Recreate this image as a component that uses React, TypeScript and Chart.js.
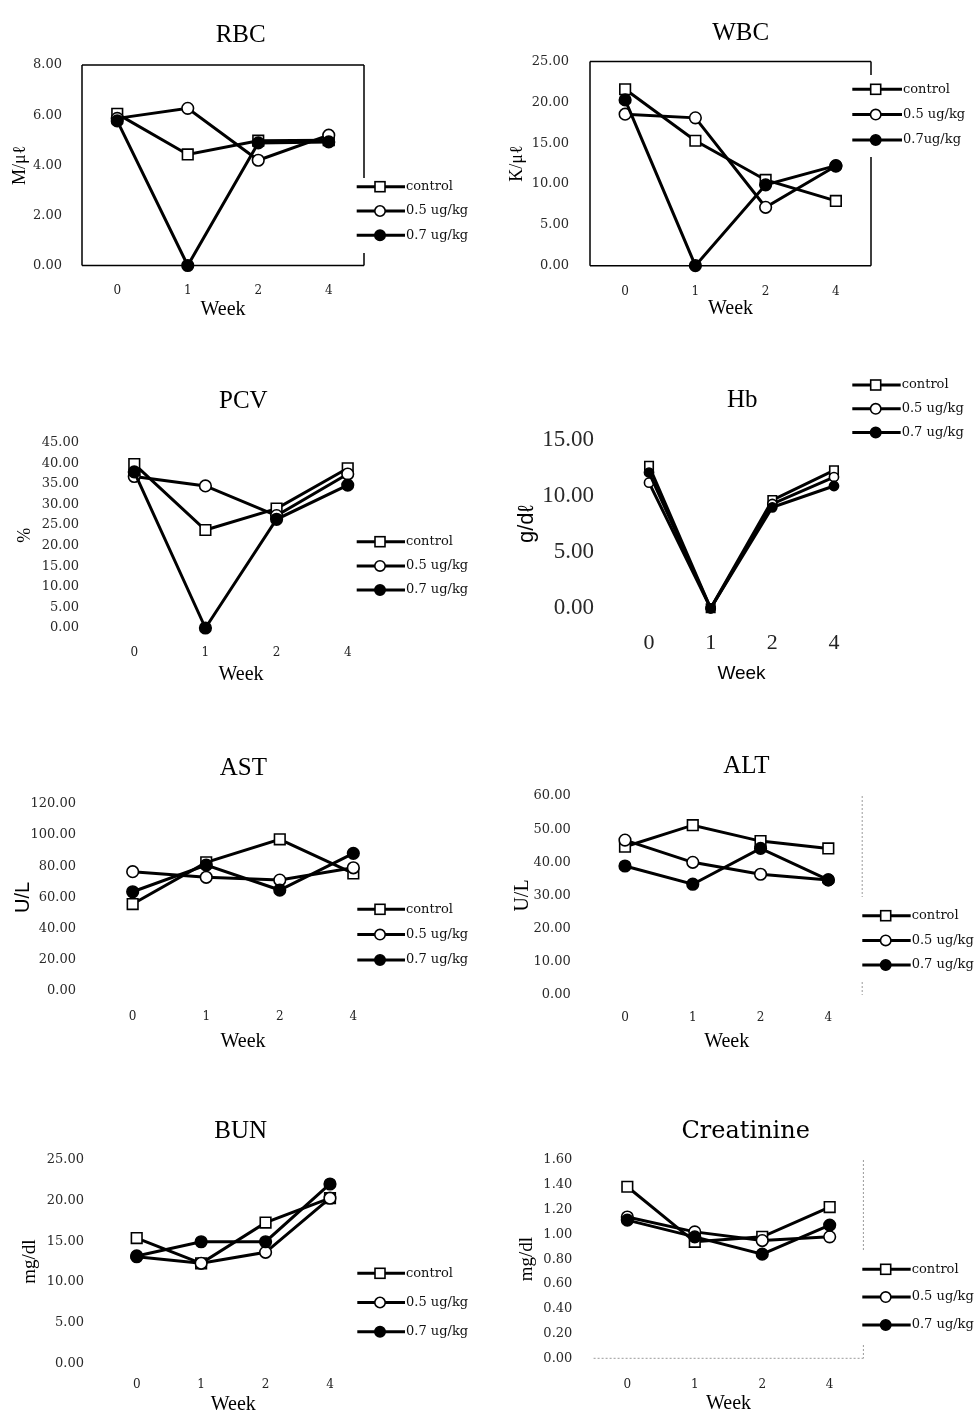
import React, { useEffect, useRef } from 'react';
import { Chart, registerables } from 'chart.js';

Chart.register(...registerables);

// ---------------- data ----------------
const weeks = ['0', '1', '2', '4'];
const legendLabels = ['control', '0.5 ug/kg', '0.7 ug/kg'];
const legendLabelsWBC = ['control', '0.5 ug/kg', '0.7ug/kg'];

const rbcControl = [6.05, 4.43, 4.98, 5.0];
const rbcDose05 = [5.87, 6.27, 4.2, 5.2];
const rbcDose07 = [5.77, 0, 4.89, 4.93];

const wbcControl = [21.6, 15.3, 10.5, 7.93];
const wbcDose05 = [18.55, 18.1, 7.15, 12.2];
const wbcDose07 = [20.3, 0, 9.9, 12.25];

const pcvControl = [39.8, 23.8, 29.0, 38.8];
const pcvDose05 = [36.8, 34.5, 27.3, 37.4];
const pcvDose07 = [37.9, 0, 26.4, 34.7];

const hbControl = [12.7, 0, 9.65, 12.3];
const hbDose05 = [11.2, 0, 9.3, 11.7];
const hbDose07 = [12.1, 0, 9.0, 10.9];

const astControl = [55.7, 82.5, 97.3, 75.4];
const astDose05 = [76.5, 72.9, 71.1, 79.0];
const astDose07 = [63.6, 80.8, 64.7, 88.3];

const altControl = [44.7, 51.2, 46.4, 44.2];
const altDose05 = [46.7, 40.0, 36.4, 34.7];
const altDose07 = [38.9, 33.4, 44.2, 34.7];

const bunControl = [15.4, 12.3, 17.3, 20.3];
const bunDose05 = [13.1, 12.3, 13.65, 20.3];
const bunDose07 = [13.2, 14.95, 14.95, 22.05];

const creControl = [1.384, 0.94, 0.98, 1.22];
const creDose05 = [1.14, 1.02, 0.95, 0.98];
const creDose07 = [1.115, 0.98, 0.84, 1.075];

// y axis ranges [max, step]
const rbcRange = [8, 2];
const wbcRange = [25, 5];
const pcvRange = [45, 5];
const hbRange = [15, 5];
const astRange = [120, 20];
const altRange = [60, 10];
const bunRange = [25, 5];
const creRange = [1.6, 0.2];

// ---------------- styles / layout ----------------
const SERIF = "'Liberation Serif', 'Times New Roman', serif";
const DSERIF = "'DejaVu Serif', serif";
const SANS = "'Liberation Sans', Arial, sans-serif";

const stdFonts = {
  title: { family: SERIF, size: 25 },
  yTick: { family: DSERIF, size: 13 },
  xTick: { family: DSERIF, size: 12 },
  xTitle: { family: SERIF, size: 20 },
  yTitle: { family: SERIF, size: 18 },
  legend: { family: DSERIF, size: 13 },
};

type Frame = {
  color: string;
  width: number;
  dash: number[];
  sides: { top?: boolean; right?: boolean; bottom?: boolean; left?: boolean };
  rightGap?: [number, number];
};

type Geo = {
  origin: [number, number, number]; // x0, y0, y1 of the canvas (page coords)
  area: [number, number, number, number];
  titleX: number;
  titleY: number;
  yTickRight: number;
  yTitleX: number;
  xTickY: number;
  xTitleY: number;
  legend: { lineStart: number; lineEnd: number; markerX: number; textX: number; firstY: number; spacing: number };
  fonts: any;
  marker: { rect: number; circle: number; legendRect: number; legendCircle: number };
  frame?: Frame;
};

const stdMarker = { rect: 7.5, circle: 5.8, legendRect: 10, legendCircle: 5.2 };

const geoRBC: Geo = {
  origin: [0, 0, 335],
  area: [82, 65, 364, 265.5],
  titleX: 240.7, titleY: 35,
  yTickRight: 62, yTitleX: 20,
  xTickY: 290.5, xTitleY: 310,
  legend: { lineStart: 356.7, lineEnd: 405, markerX: 380, textX: 406, firstY: 186.7, spacing: 24.3 },
  fonts: stdFonts,
  marker: stdMarker,
  frame: { color: '#000', width: 1.5, dash: [], sides: { top: true, right: true, bottom: true, left: true }, rightGap: [113, 188] },
};

const geoWBC: Geo = {
  origin: [489, 0, 335],
  area: [590, 61.5, 871, 265.7],
  titleX: 740.7, titleY: 33.3,
  yTickRight: 569, yTitleX: 517.3,
  xTickY: 291.7, xTitleY: 308.3,
  legend: { lineStart: 852.3, lineEnd: 902, markerX: 875.7, textX: 903, firstY: 89.3, spacing: 25.3 },
  fonts: stdFonts,
  marker: stdMarker,
  frame: { color: '#000', width: 1.5, dash: [], sides: { top: true, right: true, bottom: true, left: true }, rightGap: [13.5, 95.5] },
};

const geoPCV: Geo = {
  origin: [0, 335, 705],
  area: [98.7, 442.7, 383.3, 628],
  titleX: 243.3, titleY: 401.7,
  yTickRight: 79, yTitleX: 25,
  xTickY: 653.3, xTitleY: 675,
  legend: { lineStart: 356.7, lineEnd: 405, markerX: 380, textX: 406, firstY: 541.7, spacing: 24.2 },
  fonts: stdFonts,
  marker: stdMarker,
};

const geoHb: Geo = {
  origin: [489, 335, 705],
  area: [618.2, 440, 864.8, 608.3],
  titleX: 742.3, titleY: 400,
  yTickRight: 594, yTitleX: 527.3,
  xTickY: 643.3, xTitleY: 673.3,
  legend: { lineStart: 852.3, lineEnd: 900.7, markerX: 875.7, textX: 901.7, firstY: 385, spacing: 23.8 },
  fonts: {
    title: { family: SERIF, size: 25 },
    yTick: { family: SERIF, size: 23 },
    xTick: { family: SERIF, size: 22 },
    xTitle: { family: SANS, size: 19 },
    yTitle: { family: SANS, size: 22 },
    legend: { family: DSERIF, size: 13 },
  },
  marker: { rect: 6, circle: 4.6, legendRect: 10, legendCircle: 5.2 },
};

const geoAST: Geo = {
  origin: [0, 705, 1070],
  area: [95.9, 804, 390.1, 990.7],
  titleX: 243.3, titleY: 768.3,
  yTickRight: 76, yTitleX: 23.3,
  xTickY: 1016.7, xTitleY: 1041.7,
  legend: { lineStart: 357.3, lineEnd: 405, markerX: 380, textX: 406, firstY: 909.3, spacing: 25.3 },
  fonts: { ...stdFonts, yTitle: { family: SANS, size: 20 } },
  marker: stdMarker,
};

const geoALT: Geo = {
  origin: [489, 705, 1070],
  area: [591.1, 796, 862.2, 995],
  titleX: 746.3, titleY: 766.7,
  yTickRight: 570.7, yTitleX: 522.3,
  xTickY: 1018.3, xTitleY: 1041.7,
  legend: { lineStart: 862.3, lineEnd: 910.7, markerX: 885.7, textX: 911.7, firstY: 915.7, spacing: 24.7 },
  fonts: { ...stdFonts, yTitle: { family: SERIF, size: 20 } },
  marker: stdMarker,
  frame: { color: '#9a9a9a', width: 1, dash: [2, 2], sides: { right: true }, rightGap: [101, 186] },
};

const geoBUN: Geo = {
  origin: [0, 1070, 1416],
  area: [104.5, 1160, 362.2, 1363.3],
  titleX: 240.7, titleY: 1131.7,
  yTickRight: 84, yTitleX: 30,
  xTickY: 1385, xTitleY: 1405,
  legend: { lineStart: 357.3, lineEnd: 405, markerX: 380, textX: 406, firstY: 1273.3, spacing: 29.2 },
  fonts: { ...stdFonts, yTitle: { family: SERIF, size: 19 } },
  marker: stdMarker,
};

const geoCRE: Geo = {
  origin: [489, 1070, 1416],
  area: [593.6, 1160, 863.4, 1358.3],
  titleX: 745.7, titleY: 1131.7,
  yTickRight: 572.3, yTitleX: 527.3,
  xTickY: 1385, xTitleY: 1404,
  legend: { lineStart: 862.3, lineEnd: 910.7, markerX: 885.7, textX: 911.7, firstY: 1269.3, spacing: 27.8 },
  fonts: { ...stdFonts, title: { family: DSERIF, size: 24 }, yTitle: { family: SERIF, size: 19 } },
  marker: stdMarker,
  frame: { color: '#9a9a9a', width: 1, dash: [2, 2], sides: { right: true, bottom: true }, rightGap: [92, 185] },
};

type Panel = {
  id: string;
  title: string;
  yTitle: string;
  labels: string[];
  series: number[][];
  range: number[];
  geo: Geo;
};

const panels: Panel[] = [
  { id: 'rbc', title: 'RBC', yTitle: 'M/μℓ', labels: legendLabels, series: [rbcControl, rbcDose05, rbcDose07], range: rbcRange, geo: geoRBC },
  { id: 'wbc', title: 'WBC', yTitle: 'K/μℓ', labels: legendLabelsWBC, series: [wbcControl, wbcDose05, wbcDose07], range: wbcRange, geo: geoWBC },
  { id: 'pcv', title: 'PCV', yTitle: '%', labels: legendLabels, series: [pcvControl, pcvDose05, pcvDose07], range: pcvRange, geo: geoPCV },
  { id: 'hb', title: 'Hb', yTitle: 'g/dℓ', labels: legendLabels, series: [hbControl, hbDose05, hbDose07], range: hbRange, geo: geoHb },
  { id: 'ast', title: 'AST', yTitle: 'U/L', labels: legendLabels, series: [astControl, astDose05, astDose07], range: astRange, geo: geoAST },
  { id: 'alt', title: 'ALT', yTitle: 'U/L', labels: legendLabels, series: [altControl, altDose05, altDose07], range: altRange, geo: geoALT },
  { id: 'bun', title: 'BUN', yTitle: 'mg/dl', labels: legendLabels, series: [bunControl, bunDose05, bunDose07], range: bunRange, geo: geoBUN },
  { id: 'cre', title: 'Creatinine', yTitle: 'mg/dl', labels: legendLabels, series: [creControl, creDose05, creDose07], range: creRange, geo: geoCRE },
];

const AXIS_LEFT_PAD = 2;

// canvas width chosen so that the chart title (centred on its box) lands on titleX
function canvasWidth(g: Geo) {
  return Math.ceil(2 * (g.titleX - g.origin[0]) - AXIS_LEFT_PAD);
}

function framePlugin(frame?: Frame) {
  return {
    id: 'panelFrame',
    beforeDatasetsDraw(chart: any) {
      if (!frame) return;
      const { ctx, chartArea: a } = chart;
      ctx.save();
      ctx.strokeStyle = frame.color;
      ctx.lineWidth = frame.width;
      ctx.setLineDash(frame.dash);
      ctx.beginPath();
      const s = frame.sides;
      if (s.top) { ctx.moveTo(a.left, a.top); ctx.lineTo(a.right, a.top); }
      if (s.bottom) { ctx.moveTo(a.left, a.bottom); ctx.lineTo(a.right, a.bottom); }
      if (s.left) { ctx.moveTo(a.left, a.top); ctx.lineTo(a.left, a.bottom); }
      if (s.right) {
        if (frame.rightGap) {
          ctx.moveTo(a.right, a.top);
          ctx.lineTo(a.right, a.top + frame.rightGap[0]);
          ctx.moveTo(a.right, a.top + frame.rightGap[1]);
          ctx.lineTo(a.right, a.bottom);
        } else {
          ctx.moveTo(a.right, a.top); ctx.lineTo(a.right, a.bottom);
        }
      }
      ctx.stroke();
      ctx.restore();
    },
  };
}

// legend: a line with the dataset's marker on it, followed by the dataset label
function lineLegendPlugin(g: Geo) {
  return {
    id: 'lineLegend',
    afterDatasetsDraw(chart: any) {
      const { ctx } = chart;
      const [x0, y0] = g.origin;
      const lg = g.legend;
      const m = g.marker;
      const f = g.fonts.legend;
      ctx.save();
      chart.data.datasets.forEach((ds: any, i: number) => {
        const cy = lg.firstY - y0 + i * lg.spacing;
        ctx.strokeStyle = ds.borderColor;
        ctx.lineWidth = ds.borderWidth;
        ctx.setLineDash([]);
        ctx.beginPath();
        ctx.moveTo(lg.lineStart - x0, cy);
        ctx.lineTo(lg.lineEnd - x0, cy);
        ctx.stroke();
        const mx = lg.markerX - x0;
        ctx.lineWidth = ds.pointBorderWidth;
        ctx.strokeStyle = ds.pointBorderColor;
        ctx.fillStyle = ds.pointBackgroundColor;
        if (ds.pointStyle === 'rect') {
          const s = m.legendRect;
          ctx.fillRect(mx - s / 2, cy - s / 2, s, s);
          ctx.strokeRect(mx - s / 2, cy - s / 2, s, s);
        } else {
          ctx.beginPath();
          ctx.arc(mx, cy, m.legendCircle, 0, Math.PI * 2);
          ctx.fill();
          ctx.stroke();
        }
        ctx.fillStyle = '#111';
        ctx.font = `${f.size}px ${f.family}`;
        ctx.textAlign = 'left';
        ctx.textBaseline = 'middle';
        ctx.fillText(ds.label, lg.textX - x0, cy);
      });
      ctx.restore();
    },
  };
}

function buildConfig(p: Panel): any {
  const g = p.geo;
  const [x0, y0, y1] = g.origin;
  const W = canvasWidth(g);
  const [L, T, R, B] = g.area;
  const f = g.fonts;
  const pl = AXIS_LEFT_PAD;
  const titleBoxRight = 2 * (g.titleX - x0) - pl; // canvas coords
  const pr = W - titleBoxRight;
  const rightBoxW = titleBoxRight - (R - x0);
  const yAxisW = L - x0 - pl;
  const xAxisH = y1 - B;
  const tlh = f.title.size * 1.2;
  const titlePadTop = g.titleY - y0 - tlh / 2;
  const titlePadBottom = T - y0 - titlePadTop - tlh;
  const yTickPad = L - g.yTickRight;
  const yTitleLh = f.yTitle.size * 1.2;
  const yTitlePad = g.yTitleX - x0 - pl - yTitleLh / 2;
  const xTickLh = f.xTick.size * 1.2;
  const xTickPad = g.xTickY - B - xTickLh / 2;
  const xTitleLh = f.xTitle.size * 1.2;
  const xTitlePadBottom = y1 - g.xTitleY - xTitleLh / 2;

  const dsStyles = [
    { pointStyle: 'rect', pointRadius: g.marker.rect, pointBackgroundColor: '#fff', order: 2 },
    { pointStyle: 'circle', pointRadius: g.marker.circle, pointBackgroundColor: '#fff', order: 1 },
    { pointStyle: 'circle', pointRadius: g.marker.circle, pointBackgroundColor: '#000', order: 0 },
  ];

  return {
    type: 'line',
    data: {
      labels: weeks,
      datasets: p.series.map((s, i) => ({
        label: p.labels[i],
        data: s,
        borderColor: '#000',
        borderWidth: 3,
        pointBorderColor: '#000',
        pointBorderWidth: 1.6,
        pointHoverRadius: dsStyles[i].pointRadius,
        tension: 0,
        fill: false,
        clip: false,
        ...dsStyles[i],
      })),
    },
    options: {
      responsive: false,
      maintainAspectRatio: false,
      animation: false,
      devicePixelRatio: 1,
      events: [],
      layout: { autoPadding: false, padding: { left: pl, right: pr, top: 0, bottom: 0 } },
      plugins: {
        title: {
          display: true,
          text: p.title,
          color: '#000',
          font: { ...f.title, weight: 'normal', lineHeight: 1.2 },
          padding: { top: titlePadTop, bottom: titlePadBottom },
        },
        legend: { display: false },
        tooltip: { enabled: false },
      },
      scales: {
        x: {
          type: 'category',
          offset: true,
          grid: { display: false, drawTicks: false },
          border: { display: false },
          ticks: { font: { ...f.xTick, lineHeight: 1.2 }, color: '#222', padding: xTickPad, autoSkip: false, maxRotation: 0 },
          title: { display: true, text: 'Week', color: '#000', font: { ...f.xTitle, lineHeight: 1.2 }, padding: { top: 0, bottom: xTitlePadBottom } },
          afterFit: (s: any) => { s.height = xAxisH; },
        },
        y: {
          type: 'linear',
          position: 'left',
          min: 0,
          max: p.range[0],
          grid: { display: false, drawTicks: false },
          border: { display: false },
          ticks: {
            stepSize: p.range[1],
            autoSkip: false,
            font: { ...f.yTick, lineHeight: 1.2 },
            color: '#2a2a2a',
            padding: yTickPad,
            callback: (v: any) => Number(v).toFixed(2),
          },
          title: { display: true, text: p.yTitle, color: '#000', font: { ...f.yTitle, lineHeight: 1.2 }, padding: { top: yTitlePad, bottom: 0 } },
          afterFit: (s: any) => { s.width = yAxisW; },
        },
        // empty right-hand band that holds the legend area
        legendBand: {
          type: 'linear',
          axis: 'y',
          position: 'right',
          display: true,
          grid: { display: false, drawTicks: false },
          border: { display: false },
          ticks: { display: false },
          title: { display: false },
          afterFit: (s: any) => { s.width = rightBoxW; },
        },
      },
    },
    plugins: [framePlugin(g.frame), lineLegendPlugin(g)],
  };
}

export default function App() {
  const refs = useRef<(HTMLCanvasElement | null)[]>([]);

  useEffect(() => {
    const charts = panels.map((p, i) => new Chart(refs.current[i] as HTMLCanvasElement, buildConfig(p)));
    return () => charts.forEach((c) => c.destroy());
  }, []);

  return (
    <div style={{ position: 'absolute', left: 0, top: 0, width: 978, height: 1416, background: '#fff', overflow: 'hidden' }}>
      {panels.map((p, i) => {
        const [x0, y0, y1] = p.geo.origin;
        const w = canvasWidth(p.geo);
        return (
          <canvas
            key={p.id}
            ref={(el) => { refs.current[i] = el; }}
            width={w}
            height={y1 - y0}
            style={{ position: 'absolute', left: x0, top: y0, width: w, height: y1 - y0 }}
          />
        );
      })}
    </div>
  );
}
